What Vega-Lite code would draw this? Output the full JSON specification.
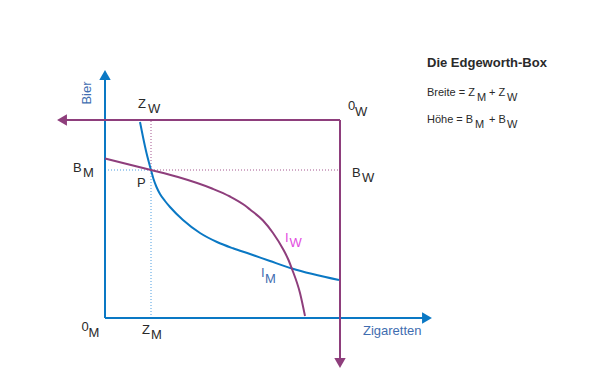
{
  "$schema": "https://vega.github.io/schema/vega-lite/v6.json",
  "width": 600,
  "height": 388,
  "padding": 0,
  "autosize": {"type": "none"},
  "background": "white",
  "config": {"view": {"stroke": null}, "text": {"font": "Liberation Sans"}},
  "datasets": {
    "linien": [
      {"serie": "Hilfslinie M vertikal", "i": 1, "x": 46, "y": 0},
      {"serie": "Hilfslinie M vertikal", "i": 2, "x": 46, "y": 148},
      {"serie": "Hilfslinie M horizontal", "i": 1, "x": 0, "y": 148},
      {"serie": "Hilfslinie M horizontal", "i": 2, "x": 46, "y": 148},
      {"serie": "Hilfslinie W vertikal", "i": 1, "x": 46, "y": 148},
      {"serie": "Hilfslinie W vertikal", "i": 2, "x": 46, "y": 198},
      {"serie": "Hilfslinie W horizontal", "i": 1, "x": 46, "y": 148},
      {"serie": "Hilfslinie W horizontal", "i": 2, "x": 235, "y": 148},
      {"serie": "Achse M Bier", "i": 1, "x": 0, "y": 0},
      {"serie": "Achse M Bier", "i": 2, "x": 0, "y": 239},
      {"serie": "Achse M Zigaretten", "i": 1, "x": 0, "y": 0},
      {"serie": "Achse M Zigaretten", "i": 2, "x": 323, "y": 0},
      {"serie": "Achse W Zigaretten", "i": 1, "x": 235, "y": 198},
      {"serie": "Achse W Zigaretten", "i": 2, "x": -40, "y": 198},
      {"serie": "Achse W Bier", "i": 1, "x": 235, "y": 198},
      {"serie": "Achse W Bier", "i": 2, "x": 235, "y": -42},
      {"serie": "I_M", "i": 1, "x": 35, "y": 196},
      {"serie": "I_M", "i": 2, "x": 38, "y": 181},
      {"serie": "I_M", "i": 3, "x": 41.5, "y": 165},
      {"serie": "I_M", "i": 4, "x": 46, "y": 148},
      {"serie": "I_M", "i": 5, "x": 48.5, "y": 139},
      {"serie": "I_M", "i": 6, "x": 51.5, "y": 131},
      {"serie": "I_M", "i": 7, "x": 55, "y": 124},
      {"serie": "I_M", "i": 8, "x": 60, "y": 117},
      {"serie": "I_M", "i": 9, "x": 65, "y": 111},
      {"serie": "I_M", "i": 10, "x": 78, "y": 98},
      {"serie": "I_M", "i": 11, "x": 95, "y": 85},
      {"serie": "I_M", "i": 12, "x": 112, "y": 76},
      {"serie": "I_M", "i": 13, "x": 128, "y": 69.7},
      {"serie": "I_M", "i": 14, "x": 145, "y": 64},
      {"serie": "I_M", "i": 15, "x": 165, "y": 57},
      {"serie": "I_M", "i": 16, "x": 187, "y": 49.5},
      {"serie": "I_M", "i": 17, "x": 234, "y": 38},
      {"serie": "I_W", "i": 1, "x": 0, "y": 159.5},
      {"serie": "I_W", "i": 2, "x": 23, "y": 153.7},
      {"serie": "I_W", "i": 3, "x": 46, "y": 148},
      {"serie": "I_W", "i": 4, "x": 73, "y": 141},
      {"serie": "I_W", "i": 5, "x": 107, "y": 129.5},
      {"serie": "I_W", "i": 6, "x": 125, "y": 121.5},
      {"serie": "I_W", "i": 7, "x": 140, "y": 112.5},
      {"serie": "I_W", "i": 8, "x": 145, "y": 108.5},
      {"serie": "I_W", "i": 9, "x": 158, "y": 97.5},
      {"serie": "I_W", "i": 10, "x": 168, "y": 85},
      {"serie": "I_W", "i": 11, "x": 178, "y": 69},
      {"serie": "I_W", "i": 12, "x": 183.5, "y": 58},
      {"serie": "I_W", "i": 13, "x": 187, "y": 49},
      {"serie": "I_W", "i": 14, "x": 195, "y": 25},
      {"serie": "I_W", "i": 15, "x": 200, "y": 2}
    ],
    "pfeile": [
      {"achse": "M", "richtung": "oben", "x": 0, "y": 243},
      {"achse": "M", "richtung": "rechts", "x": 322, "y": 0},
      {"achse": "W", "richtung": "links", "x": -43, "y": 198},
      {"achse": "W", "richtung": "unten", "x": 235, "y": -45}
    ],
    "texte": [
      {"gruppe": "schwarz", "text": "Z", "x": 33, "y": 210},
      {"gruppe": "schwarz", "text": "W", "x": 43, "y": 205},
      {"gruppe": "schwarz", "text": "B", "x": -32, "y": 146},
      {"gruppe": "schwarz", "text": "M", "x": -22, "y": 141},
      {"gruppe": "schwarz", "text": "P", "x": 32, "y": 131},
      {"gruppe": "schwarz", "text": "0", "x": 243, "y": 208},
      {"gruppe": "schwarz", "text": "W", "x": 250, "y": 202},
      {"gruppe": "schwarz", "text": "B", "x": 247, "y": 141},
      {"gruppe": "schwarz", "text": "W", "x": 257, "y": 136},
      {"gruppe": "schwarz", "text": "0", "x": -23.5, "y": -13},
      {"gruppe": "schwarz", "text": "M", "x": -16.5, "y": -19},
      {"gruppe": "schwarz", "text": "Z", "x": 37, "y": -16},
      {"gruppe": "schwarz", "text": "M", "x": 46, "y": -21},
      {"gruppe": "formel", "text": "Breite = Z", "x": 322, "y": 222},
      {"gruppe": "formel", "text": "M", "x": 372, "y": 217},
      {"gruppe": "formel", "text": "+ Z", "x": 384, "y": 222},
      {"gruppe": "formel", "text": "W", "x": 402, "y": 217},
      {"gruppe": "formel", "text": "Höhe = B", "x": 322, "y": 195},
      {"gruppe": "formel", "text": "M", "x": 370, "y": 190},
      {"gruppe": "formel", "text": "+ B", "x": 384, "y": 195},
      {"gruppe": "formel", "text": "W", "x": 402, "y": 190},
      {"gruppe": "titel", "text": "Die Edgeworth-Box", "x": 322, "y": 251},
      {"gruppe": "blau", "text": "Zigaretten", "x": 258, "y": -17},
      {"gruppe": "blau", "text": "I", "x": 156, "y": 41},
      {"gruppe": "blau", "text": "M", "x": 160, "y": 35},
      {"gruppe": "magenta", "text": "I", "x": 180, "y": 76},
      {"gruppe": "magenta", "text": "W", "x": 184.5, "y": 71},
      {"gruppe": "vertikal", "text": "Bier", "x": -14.5, "y": 225}
    ]
  },
  "encoding": {
    "x": {"field": "x", "type": "quantitative", "axis": null, "scale": {"domain": [-105, 495], "nice": false, "zero": false}},
    "y": {"field": "y", "type": "quantitative", "axis": null, "scale": {"domain": [-70, 318], "nice": false, "zero": false}}
  },
  "layer": [
    {
      "data": {"name": "linien"},
      "transform": [{"filter": {"field": "serie", "oneOf": ["Hilfslinie M vertikal", "Hilfslinie M horizontal"]}}],
      "mark": {"type": "line", "color": "#4f9ee0", "strokeWidth": 1, "strokeDash": [1, 2]},
      "encoding": {"detail": {"field": "serie"}, "order": {"field": "i"}}
    },
    {
      "data": {"name": "linien"},
      "transform": [{"filter": {"field": "serie", "oneOf": ["Hilfslinie W vertikal", "Hilfslinie W horizontal"]}}],
      "mark": {"type": "line", "color": "#a4568f", "strokeWidth": 1, "strokeDash": [1, 2]},
      "encoding": {"detail": {"field": "serie"}, "order": {"field": "i"}}
    },
    {
      "data": {"name": "linien"},
      "transform": [{"filter": {"field": "serie", "oneOf": ["Achse M Bier", "Achse M Zigaretten"]}}],
      "mark": {"type": "line", "color": "#0a78c4", "strokeWidth": 2},
      "encoding": {"detail": {"field": "serie"}, "order": {"field": "i"}}
    },
    {
      "data": {"name": "linien"},
      "transform": [{"filter": {"field": "serie", "oneOf": ["Achse W Bier", "Achse W Zigaretten"]}}],
      "mark": {"type": "line", "color": "#8e3e7c", "strokeWidth": 2},
      "encoding": {"detail": {"field": "serie"}, "order": {"field": "i"}}
    },
    {
      "data": {"name": "linien"},
      "transform": [{"filter": {"field": "serie", "equal": "I_M"}}],
      "mark": {"type": "line", "color": "#0a78c4", "strokeWidth": 2, "interpolate": "monotone"},
      "encoding": {"order": {"field": "i"}}
    },
    {
      "data": {"name": "linien"},
      "transform": [{"filter": {"field": "serie", "equal": "I_W"}}],
      "mark": {"type": "line", "color": "#8e3e7c", "strokeWidth": 2, "interpolate": "monotone"},
      "encoding": {"order": {"field": "i"}}
    },
    {
      "data": {"name": "pfeile"},
      "transform": [{"filter": {"field": "achse", "equal": "M"}}],
      "mark": {"type": "point", "filled": true, "size": 130, "opacity": 1, "color": "#0a78c4"},
      "encoding": {"shape": {"field": "richtung", "type": "nominal", "legend": null, "scale": {"domain": ["oben", "rechts", "links", "unten"], "range": ["triangle-up", "triangle-right", "triangle-left", "triangle-down"]}}}
    },
    {
      "data": {"name": "pfeile"},
      "transform": [{"filter": {"field": "achse", "equal": "W"}}],
      "mark": {"type": "point", "filled": true, "size": 130, "opacity": 1, "color": "#8e3e7c"},
      "encoding": {"shape": {"field": "richtung", "type": "nominal", "legend": null, "scale": {"domain": ["oben", "rechts", "links", "unten"], "range": ["triangle-up", "triangle-right", "triangle-left", "triangle-down"]}}}
    },
    {
      "data": {"name": "texte"},
      "transform": [{"filter": {"field": "gruppe", "equal": "schwarz"}}],
      "mark": {"type": "text", "fontSize": 13, "color": "#2a2a2a", "align": "left", "baseline": "alphabetic"},
      "encoding": {"text": {"field": "text"}}
    },
    {
      "data": {"name": "texte"},
      "transform": [{"filter": {"field": "gruppe", "equal": "formel"}}],
      "mark": {"type": "text", "fontSize": 11, "color": "#2a2a2a", "align": "left", "baseline": "alphabetic"},
      "encoding": {"text": {"field": "text"}}
    },
    {
      "data": {"name": "texte"},
      "transform": [{"filter": {"field": "gruppe", "equal": "titel"}}],
      "mark": {"type": "text", "fontSize": 13, "fontWeight": "bold", "color": "#2a2a2a", "align": "left", "baseline": "alphabetic"},
      "encoding": {"text": {"field": "text"}}
    },
    {
      "data": {"name": "texte"},
      "transform": [{"filter": {"field": "gruppe", "equal": "blau"}}],
      "mark": {"type": "text", "fontSize": 13, "color": "#3f6db0", "align": "left", "baseline": "alphabetic"},
      "encoding": {"text": {"field": "text"}}
    },
    {
      "data": {"name": "texte"},
      "transform": [{"filter": {"field": "gruppe", "equal": "magenta"}}],
      "mark": {"type": "text", "fontSize": 13, "color": "#e24ce0", "align": "left", "baseline": "alphabetic"},
      "encoding": {"text": {"field": "text"}}
    },
    {
      "data": {"name": "texte"},
      "transform": [{"filter": {"field": "gruppe", "equal": "vertikal"}}],
      "mark": {"type": "text", "fontSize": 13, "color": "#3f6db0", "align": "center", "baseline": "alphabetic", "angle": 270},
      "encoding": {"text": {"field": "text"}}
    }
  ]
}
